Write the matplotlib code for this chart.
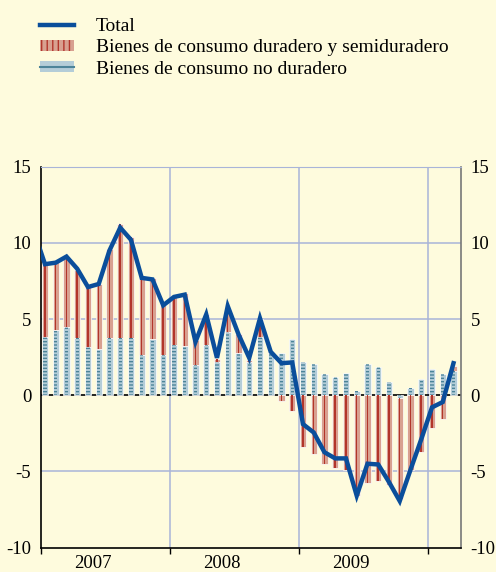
import matplotlib.pyplot as plt
import numpy as np
from matplotlib.patches import Patch
from matplotlib.lines import Line2D

plt.rcParams['font.family'] = ['Liberation Serif', 'DejaVu Serif']
plt.rcParams['axes.unicode_minus'] = False
plt.rcParams['hatch.linewidth'] = 1.0

years = ["2007", "2008", "2009"]

# monthly values, Jan 2007 .. Mar 2010 (total also has Dec 2006, clipped by the axis)
total = [10.7,
         8.6, 8.7, 9.1, 8.3, 7.1, 7.3, 9.5, 11.0, 10.2, 7.7, 7.6, 5.9,
         6.45, 6.6, 3.5, 5.3, 2.45, 5.85, 4.0, 2.45, 5.05, 2.85, 2.1, 2.15,
         -1.9, -2.45, -3.75, -4.15, -4.15, -6.6, -4.5, -4.55, -5.7, -6.95, -4.9, -2.9,
         -0.8, -0.45, 2.1]
durable = [4.9, 4.51, 4.59, 4.46, 4.02, 4.3, 5.87, 7.51, 6.63, 5.12, 3.99, 3.39,
           3.24, 3.45, 1.63, 2.0, 0.2, 1.5, 1.2, 0.15, 1.2, 0.1, -0.35, -1.06,
           -3.42, -3.86, -4.53, -4.81, -4.9, -6.6, -5.74, -5.63, -5.9, -6.6, -4.9, -3.7,
           -2.16, -1.55, 0.3]
non_durable = [3.82, 4.26, 4.46, 3.75, 3.16, 3.03, 3.73, 3.75, 3.75, 2.65, 3.69, 2.61,
               3.28, 3.25, 1.97, 3.32, 2.15, 4.14, 2.8, 2.18, 3.81, 2.75, 2.75, 3.69,
               2.16, 2.03, 1.39, 1.17, 1.48, 0.26, 2.03, 1.88, 0.88, -0.2, 0.44, 1.06,
               1.75, 1.42, 1.6]

bg = '#FEFBDD'
line_col = '#0A4E9B'
salmon = '#D8A090'
dark_red = '#B2352B'
pale_blue = '#B4CDD8'
teal = '#4C8499'
grid_col = '#A9B4D8'

durable = np.array(durable)
non_durable = np.array(non_durable)
x = np.arange(len(durable)) + 0.37
x_total = np.arange(len(total)) - 0.63
red_bottom = np.where(np.sign(durable) == np.sign(non_durable), non_durable, 0)

fig = plt.figure(figsize=(4.96, 5.72), dpi=100, facecolor=bg)
ax = fig.add_axes([41 / 496, 1 - 547.5 / 572, 420 / 496, 380.8 / 572])
ax.set_facecolor(bg)

ax.set_xlim(0, 39.07)
ax.set_ylim(-10, 15)

for yv in [15, 10, 5, -5]:
    ax.axhline(yv, color=grid_col, lw=1.1, zorder=0)
for xv in [12, 24, 36]:
    ax.axvline(xv, color=grid_col, lw=1.1, zorder=0)
ax.axhline(0, color='black', lw=1.2, zorder=1)

# non-durable bars
ax.bar(x, non_durable, width=0.58, color=pale_blue, edgecolor='white', lw=0.5, zorder=2)
ax.bar(x, non_durable, width=0.3, facecolor='none', edgecolor=teal, lw=0,
       hatch='-----', zorder=3)
# durable bars stacked
ax.bar(x, durable, width=0.58, bottom=red_bottom, color=salmon, edgecolor='white', lw=0.5, zorder=2)
ax.bar(x, durable, width=0.14, bottom=red_bottom, color=dark_red, lw=0, zorder=3)

ax.plot(x_total, total, color=line_col, lw=3.2, zorder=4, solid_joinstyle='miter')

ax.set_yticks([-10, -5, 0, 5, 10, 15])
ax.set_yticklabels(['-10', '-5', '0', '5', '10', '15'])
ax.tick_params(axis='y', length=0, labelsize=13.5, pad=7, labelright=True, right=False)
ax.set_xticks([0, 12, 24, 36])
ax.set_xticklabels([])
ax.tick_params(axis='x', direction='out', length=4, width=1, color='black')

for i, yr in enumerate(years):
    ax.text(12 * i + 4.8, -0.042, yr, transform=ax.get_xaxis_transform(),
            ha='center', va='center', fontsize=13.5)

ax.spines['left'].set_color('black')
ax.spines['bottom'].set_color('black')
ax.spines['right'].set_color('#777777')
ax.spines['top'].set_color(grid_col)
for s in ['left', 'bottom', 'right']:
    ax.spines[s].set_linewidth(1.2)

handles = [
    Line2D([], [], color=line_col, lw=3.2),
    Patch(facecolor=salmon, edgecolor=dark_red, lw=0, hatch='|||'),
    (Patch(facecolor=pale_blue, lw=0), Line2D([], [], color=teal, lw=1.5)),
]
labels = ["Total", "Bienes de consumo duradero y semiduradero", "Bienes de consumo no duradero"]
fig.legend(handles, labels, loc='upper left', bbox_to_anchor=(40 / 496, 1 - 18 / 572),
           frameon=False, fontsize=14, handlelength=1.75, handleheight=0.45,
           handletextpad=1.12, labelspacing=0.22, borderpad=0, borderaxespad=0)

fig.savefig('out.png', dpi=100, facecolor=bg)
